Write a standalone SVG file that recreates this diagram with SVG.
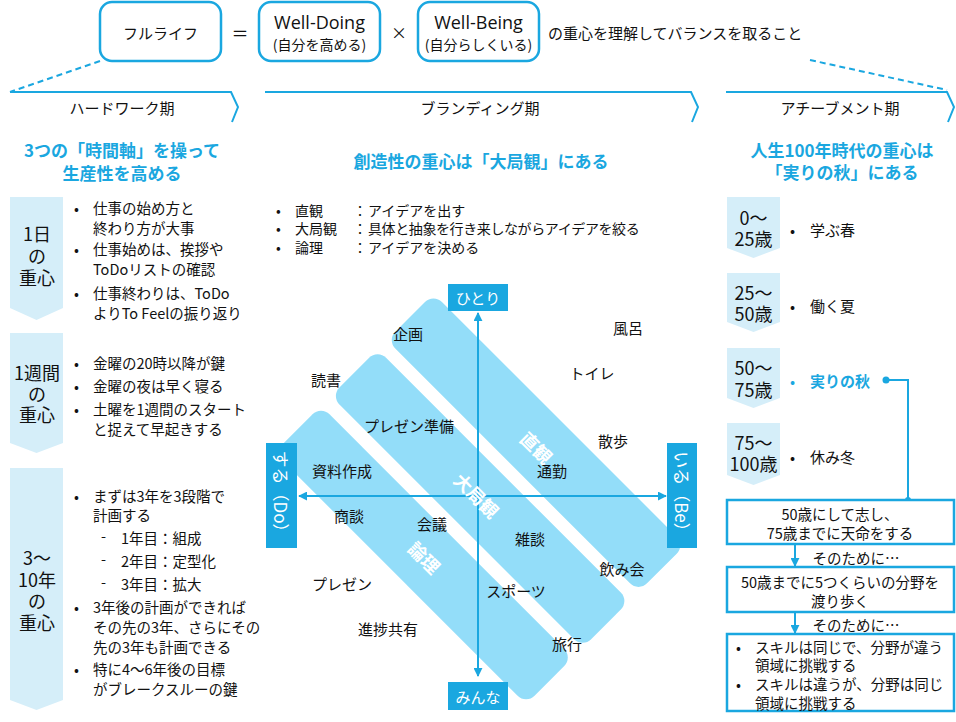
<svg xmlns="http://www.w3.org/2000/svg" width="956" height="722" viewBox="0 0 956 722">
<defs>
<style>
text{font-family:"Noto Sans CJK JP","Noto Sans",sans-serif;fill:#111;dominant-baseline:central}
.c{text-anchor:middle}
.t{font-size:14.5px}
.lb{font-size:15px}
.ttl{font-size:17px;font-weight:700;fill:#1AA7E0;text-anchor:middle}
.box{fill:#fff;stroke:#1AA7E0;stroke-width:2.5}
.rbox{fill:#fff;stroke:#1AA7E0;stroke-width:2.5}
.hdr{fill:none;stroke:#1AA7E0;stroke-width:2}
.dash{fill:none;stroke:#1AA7E0;stroke-width:2;stroke-dasharray:6 4}
.chev{fill:#D5EEF9}
.cht{font-size:18px;text-anchor:middle}
.band{fill:#93DDF9}
.bl{font-size:18px;font-weight:700;fill:#fff;text-anchor:middle}
.ax{stroke:#1AA7E0;stroke-width:2;fill:none}
.lbl{fill:#1AA7E0}
.wt{fill:#fff;font-size:15px;text-anchor:middle}
.lat{font-family:"Open Sans","Noto Sans CJK JP",sans-serif}
</style>
<marker id="ah" viewBox="0 0 10 10" refX="9" refY="5" markerWidth="9" markerHeight="9" markerUnits="userSpaceOnUse" orient="auto-start-reverse">
<path d="M0,0 L10,5 L0,10 Z" fill="#1AA7E0"/>
</marker>
</defs>

<!-- top formula -->
<g id="fulllife">
<rect class="rbox" x="100" y="2" width="121" height="59" rx="12"/>
<text class="c" x="160.5" y="32" style="font-size:15px">フルライフ</text>
</g>
<text class="c" x="240" y="32" style="font-size:17px">＝</text>
<g id="welldoing">
<rect class="rbox" x="259" y="2" width="121" height="59" rx="12"/>
<text class="c" x="319.5" y="22"><tspan class="lat" style="font-size:18px">Well-Doing</tspan><tspan x="319.5" dy="22" style="font-size:14px">(自分を高める)</tspan></text>
</g>
<text class="c" x="399" y="32" style="font-size:16px">×</text>
<g id="wellbeing">
<rect class="rbox" x="418" y="2" width="121" height="59" rx="12"/>
<text class="c" x="478.5" y="22"><tspan class="lat" style="font-size:18px">Well-Being</tspan><tspan x="478.5" dy="22" style="font-size:14px">(自分らしくいる)</tspan></text>
</g>
<text x="548" y="32" style="font-size:15px">の重心を理解してバランスを取ること</text>

<g id="connectors">
<path class="dash" d="M100,61 L10,92"/>
<path class="dash" d="M810,60 L947,90"/>
<path class="hdr" d="M10,92 H231 L238,107 L232,122"/>
<path class="hdr" d="M265,92 H691 L698,107 L692,122"/>
<path class="hdr" d="M726,92 H947 L954,107 L948,122"/>
<circle cx="886" cy="380" r="3.5" fill="#1AA7E0"/>
<path class="ax" d="M886,380 H908 V500"/>
<circle cx="908" cy="500" r="3" fill="#1AA7E0"/>
<line class="ax" x1="795" y1="545" x2="795" y2="566" marker-end="url(#ah)"/>
<line class="ax" x1="795" y1="613" x2="795" y2="633" marker-end="url(#ah)"/>
</g>

<g id="phase-hard"><text class="c lb" x="122" y="107">ハードワーク期</text></g>
<g id="phase-brand"><text class="c lb" x="480" y="107">ブランディング期</text></g>
<g id="phase-achieve"><text class="c lb" x="840" y="107">アチーブメント期</text></g>

<!-- left column -->
<g id="left-title">
<text class="ttl" x="122" y="149">3つの「時間軸」を操って<tspan x="122" dy="23">生産性を高める</tspan></text>
</g>
<g id="day">
<path class="chev" d="M10,197 H63 V308 L36.5,320 L10,308 Z"/>
<text class="cht" x="37" y="233">1日<tspan x="37" dy="22">の</tspan><tspan x="37" dy="22">重心</tspan></text>
<g class="t">
<text x="74" y="207">•</text><text x="93" y="207">仕事の始め方と<tspan x="93" dy="20">終わり方が大事</tspan></text>
<text x="74" y="248">•</text><text x="93" y="248">仕事始めは、挨拶や<tspan x="93" dy="20">ToDoリストの確認</tspan></text>
<text x="74" y="292">•</text><text x="93" y="292">仕事終わりは、ToDo<tspan x="93" dy="20">よりTo Feelの振り返り</tspan></text>
</g>
</g>
<g id="week">
<path class="chev" d="M10,333 H63 V443 L36.5,453 L10,443 Z"/>
<text class="cht" x="37" y="372">1週間<tspan x="37" dy="21">の</tspan><tspan x="37" dy="21">重心</tspan></text>
<g class="t">
<text x="74" y="362">•</text><text x="93" y="362">金曜の20時以降が鍵</text>
<text x="74" y="385">•</text><text x="93" y="385">金曜の夜は早く寝る</text>
<text x="74" y="408">•</text><text x="93" y="408">土曜を1週間のスタート<tspan x="93" dy="20">と捉えて早起きする</tspan></text>
</g>
</g>
<g id="years">
<path class="chev" d="M10,468 H63 V700 L36.5,710 L10,700 Z"/>
<text class="cht" x="37" y="557">3～<tspan x="37" dy="21.5">10年</tspan><tspan x="37" dy="21.5">の</tspan><tspan x="37" dy="21.5">重心</tspan></text>
<g class="t">
<text x="74" y="495">•</text><text x="93" y="495">まずは3年を3段階で<tspan x="93" dy="19">計画する</tspan></text>
<text x="101" y="535">-</text><text x="121" y="537">1年目：組成</text>
<text x="101" y="558">-</text><text x="121" y="560">2年目：定型化</text>
<text x="101" y="581">-</text><text x="121" y="583">3年目：拡大</text>
<text x="74" y="606">•</text><text x="93" y="606">3年後の計画ができれば<tspan x="93" dy="20">その先の3年、さらにその</tspan><tspan x="93" dy="20">先の3年も計画できる</tspan></text>
<text x="74" y="668">•</text><text x="93" y="668">特に4～6年後の目標<tspan x="93" dy="20">がブレークスルーの鍵</tspan></text>
</g>
</g>

<!-- middle -->
<g id="mid-title"><text class="ttl" x="481" y="160">創造性の重心は「大局観」にある</text></g>
<g id="mid-bullets" style="font-size:14px">
<text x="276" y="210">•</text><text x="295" y="210">直観</text><text class="c" x="360" y="210">：</text><text x="368" y="210">アイデアを出す</text>
<text x="276" y="228">•</text><text x="295" y="228">大局観</text><text class="c" x="360" y="228">：</text><text x="368" y="228" style="letter-spacing:-0.4px">具体と抽象を行き来しながらアイデアを絞る</text>
<text x="276" y="247">•</text><text x="295" y="247">論理</text><text class="c" x="360" y="247">：</text><text x="368" y="247">アイデアを決める</text>
</g>
<g id="bands" transform="rotate(45)">
<rect class="band" x="514" y="-99" width="356" height="66" rx="12"/>
<rect class="band" x="514" y="-20" width="356" height="66" rx="12"/>
<rect class="band" x="514" y="60" width="356" height="66" rx="12"/>
</g>
<g id="axes">
<line class="ax" x1="478" y1="676" x2="478" y2="313" marker-start="url(#ah)" marker-end="url(#ah)"/>
<line class="ax" x1="299" y1="496" x2="666" y2="496" marker-start="url(#ah)" marker-end="url(#ah)"/>
</g>
<g id="band-labels">
<text class="bl" transform="translate(537,447) rotate(45)">直観</text>
<text class="bl" transform="translate(477,495) rotate(45)">大局観</text>
<text class="bl" transform="translate(425,557) rotate(45)">論理</text>
</g>
<g id="hitori"><rect class="lbl" x="448" y="284" width="60" height="27"/><text class="wt" x="478" y="297.5">ひとり</text></g>
<g id="minna"><rect class="lbl" x="448" y="682" width="60" height="28"/><text class="wt" x="478" y="696">みんな</text></g>
<g id="suru"><rect class="lbl" x="266" y="443" width="31" height="105"/><text class="wt" style="font-size:17px" transform="translate(281.5,495.5) rotate(90)">する（Do）</text></g>
<g id="iru"><rect class="lbl" x="667" y="443" width="30" height="105"/><text class="wt" style="font-size:17px" transform="translate(682,495.5) rotate(90)">いる（Be）</text></g>
<g id="activities" class="lb" style="text-anchor:middle">
<text x="408" y="333">企画</text>
<text x="628" y="327">風呂</text>
<text x="326" y="379">読書</text>
<text x="592" y="372">トイレ</text>
<text x="409" y="425">プレゼン準備</text>
<text x="613" y="440">散歩</text>
<text x="342" y="470">資料作成</text>
<text x="552" y="470">通勤</text>
<text x="349" y="515">商談</text>
<text x="432" y="523">会議</text>
<text x="530" y="538">雑談</text>
<text x="622" y="568">飲み会</text>
<text x="342" y="583">プレゼン</text>
<text x="516" y="590">スポーツ</text>
<text x="388" y="628">進捗共有</text>
<text x="567" y="643">旅行</text>
</g>

<!-- right column -->
<g id="right-title">
<text class="ttl" x="842" y="149">人生100年時代の重心は<tspan x="842" dy="22">「実りの秋」にある</tspan></text>
</g>
<g id="age1">
<path class="chev" d="M727,197 H780 V248 L753.5,258 L727,248 Z"/>
<text class="cht" x="753.5" y="217">0～<tspan x="753.5" dy="21">25歳</tspan></text>
<text class="lb" x="790" y="229">•</text><text class="lb" x="810" y="229">学ぶ春</text>
</g>
<g id="age2">
<path class="chev" d="M727,273 H780 V322 L753.5,332 L727,322 Z"/>
<text class="cht" x="753.5" y="292">25～<tspan x="753.5" dy="21">50歳</tspan></text>
<text class="lb" x="790" y="305">•</text><text class="lb" x="810" y="305">働く夏</text>
</g>
<g id="age3">
<path class="chev" d="M727,348 H780 V398 L753.5,408 L727,398 Z"/>
<text class="cht" x="753.5" y="367">50～<tspan x="753.5" dy="22">75歳</tspan></text>
<text class="lb" x="790" y="380" style="fill:#1AA7E0">•</text><text class="lb" x="810" y="380" style="fill:#1AA7E0;font-weight:700">実りの秋</text>
</g>
<g id="age4">
<path class="chev" d="M727,423 H780 V475 L753.5,485 L727,475 Z"/>
<text class="cht" x="753.5" y="442">75～<tspan x="753.5" dy="21">100歳</tspan></text>
<text class="lb" x="790" y="456">•</text><text class="lb" x="810" y="456">休み冬</text>
</g>
<g id="box1">
<rect class="box" x="727" y="500" width="227" height="44"/>
<text class="c t" x="840" y="513">50歳にして志し、<tspan x="840" dy="19">75歳までに天命をする</tspan></text>
</g>
<text class="c t" x="856" y="557">そのために…</text>
<g id="box2">
<rect class="box" x="727" y="567" width="227" height="45"/>
<text class="c t" x="840" y="581">50歳までに5つくらいの分野を<tspan x="840" dy="19">渡り歩く</tspan></text>
</g>
<text class="c t" x="856" y="624">そのために…</text>
<g id="box3">
<rect class="box" x="727" y="634" width="227" height="77"/>
<g class="t">
<text x="736" y="646">•</text><text x="755" y="646">スキルは同じで、分野が違う<tspan x="755" dy="18">領域に挑戦する</tspan></text>
<text x="736" y="683">•</text><text x="755" y="683">スキルは違うが、分野は同じ<tspan x="755" dy="19">領域に挑戦する</tspan></text>
</g>
</g>
</svg>
